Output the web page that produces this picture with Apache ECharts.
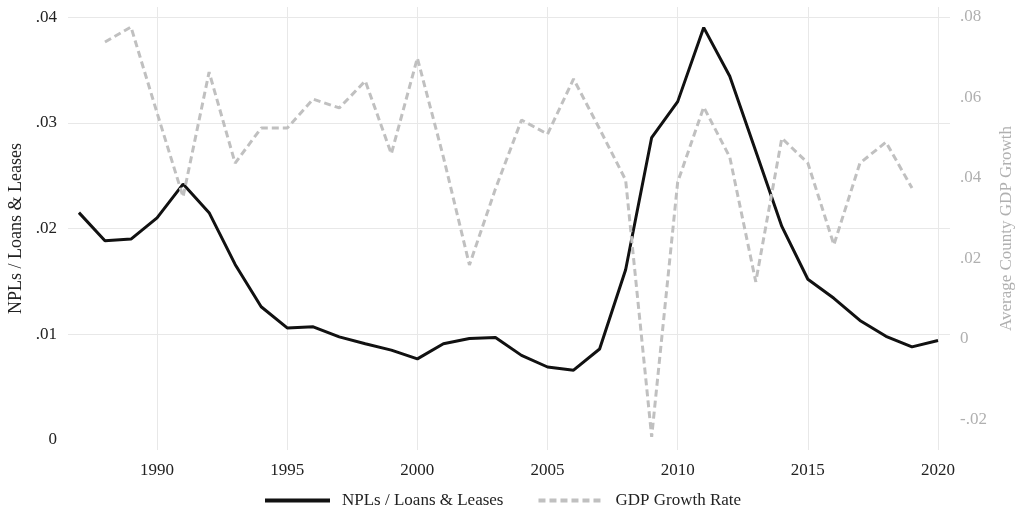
<!DOCTYPE html>
<html>
<head>
<meta charset="utf-8">
<script src="https://cdn.jsdelivr.net/npm/echarts@6/dist/echarts.min.js"></script>
<style>
  html, body { margin: 0; padding: 0; background: #fff; }
  #chart { width: 1015px; height: 515px; }
</style>
</head>
<body>
<div id="chart"></div>
<script>
// data
const years = [1987, 1988, 1989, 1990, 1991, 1992, 1993, 1994, 1995, 1996,
               1997, 1998, 1999, 2000, 2001, 2002, 2003, 2004, 2005, 2006,
               2007, 2008, 2009, 2010, 2011, 2012, 2013, 2014, 2015, 2016,
               2017, 2018, 2019, 2020];
const nplRatio = [0.0215, 0.01885, 0.0190, 0.0210, 0.0242, 0.0215, 0.0166, 0.0126, 0.0106, 0.0107,
                  0.00975, 0.0091, 0.0085, 0.00767, 0.0091, 0.0096, 0.0097, 0.0080, 0.0069, 0.0066,
                  0.0086, 0.0161, 0.0286, 0.0320, 0.0390, 0.0344, 0.0273, 0.0202, 0.0152, 0.0134,
                  0.0113, 0.0098, 0.0088, 0.0094];
const gdpGrowth = [null, 0.0738, 0.0775, 0.0562, 0.0353, 0.0663, 0.0437, 0.0524, 0.0524, 0.0596,
                   0.0574, 0.0641, 0.0460, 0.0698, 0.0452, 0.0184, 0.0373, 0.0544, 0.0509, 0.0646,
                   0.0522, 0.0395, -0.0243, 0.0390, 0.0576, 0.0452, 0.0142, 0.0499, 0.0437, 0.0234,
                   0.0437, 0.0489, 0.0375, null];

const xTicks = [1990, 1995, 2000, 2005, 2010, 2015, 2020];
const leftTicks = [0, 0.01, 0.02, 0.03, 0.04];
const leftGridTicks = [0.01, 0.02, 0.03, 0.04];
const rightTicks = [-0.02, 0, 0.02, 0.04, 0.06, 0.08];

const font = '"Liberation Serif", "DejaVu Serif", serif';

// .04 style labels
const fmt = v => (Math.abs(v) < 1e-9 ? '0' : v.toFixed(2).replace('0.', '.'));

const chart = echarts.init(document.getElementById('chart'));

const option = {
    animation: false,
    grid: { left: 68, right: 65, top: 7, bottom: 65, containLabel: false, outerBoundsMode: 'none' },
    legend: {
        data: ['NPLs / Loans & Leases', 'GDP Growth Rate'],
        left: 263,
        top: 492,
        padding: 0,
        itemWidth: 65,
        itemHeight: 20,
        itemGap: 33,
        itemStyle: { opacity: 0 },
        lineStyle: { width: 4 },
        textStyle: { fontFamily: font, fontSize: 17, color: '#222', padding: [0, 0, 0, 7] }
    },
    xAxis: {
        type: 'value',
        min: 1986.58,
        max: 2020.46,
        axisLine: { show: false },
        axisTick: { show: false, customValues: xTicks },
        axisLabel: {
            customValues: xTicks,
            formatter: v => String(v),
            fontFamily: font, fontSize: 17, color: '#222', margin: 12
        },
        splitLine: { show: true, lineStyle: { color: '#e8e8e8', width: 1 } }
    },
    yAxis: [
        {
            type: 'value',
            min: -0.00095,
            max: 0.04095,
            name: 'NPLs / Loans & Leases',
            nameLocation: 'middle',
            nameGap: 40,
            nameTextStyle: { fontFamily: font, fontSize: 18, color: '#222' },
            axisLine: { show: false },
            axisTick: { show: false, customValues: leftGridTicks },
            axisLabel: {
                customValues: leftTicks,
                formatter: fmt,
                fontFamily: font, fontSize: 17, color: '#222', margin: 11
            },
            splitLine: { show: true, lineStyle: { color: '#e8e8e8', width: 1 } }
        },
        {
            type: 'value',
            position: 'right',
            min: -0.02758,
            max: 0.08248,
            name: 'Average County GDP Growth',
            nameLocation: 'middle',
            nameGap: 47,
            nameTextStyle: { fontFamily: font, fontSize: 17, color: '#b0b0b0' },
            axisLine: { show: false },
            axisTick: { show: false, customValues: rightTicks },
            axisLabel: {
                customValues: rightTicks,
                formatter: fmt,
                fontFamily: font, fontSize: 17, color: '#b0b0b0', margin: 10
            },
            splitLine: { show: false }
        }
    ],
    series: [
        {
            name: 'NPLs / Loans & Leases',
            type: 'line',
            yAxisIndex: 0,
            symbol: 'none',
            showSymbol: false,
            lineStyle: { color: '#111', width: 3 },
            itemStyle: { color: '#111' },
            data: years.map((y, i) => [y, nplRatio[i]])
        },
        {
            name: 'GDP Growth Rate',
            type: 'line',
            yAxisIndex: 1,
            symbol: 'none',
            showSymbol: false,
            lineStyle: { color: '#c0c0c0', width: 3, type: [7, 4] },
            itemStyle: { color: '#c0c0c0' },
            data: years.map((y, i) => [y, gdpGrowth[i]])
        }
    ]
};

chart.setOption(option);
</script>
</body>
</html>
